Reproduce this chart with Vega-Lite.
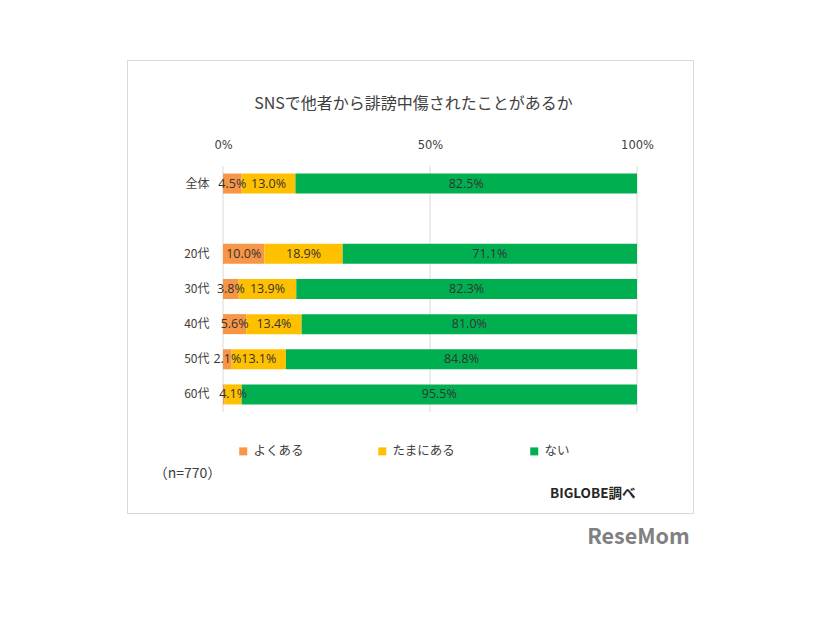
{
  "$schema": "https://vega.github.io/schema/vega-lite/v6.json",
  "width": 566,
  "height": 453,
  "autosize": {"type": "none"},
  "padding": {"left": 127, "top": 60, "right": 133, "bottom": 107},
  "background": "#ffffff",
  "config": {
    "font": "Noto Sans CJK JP",
    "view": {"stroke": "#d9d9d9", "strokeWidth": 1}
  },
  "datasets": {
    "survey": [
      {"cat": "全体", "type": "よくある", "order": 1, "pct": 0.045},
      {"cat": "全体", "type": "たまにある", "order": 2, "pct": 0.130},
      {"cat": "全体", "type": "ない", "order": 3, "pct": 0.825},
      {"cat": "20代", "type": "よくある", "order": 1, "pct": 0.100},
      {"cat": "20代", "type": "たまにある", "order": 2, "pct": 0.189},
      {"cat": "20代", "type": "ない", "order": 3, "pct": 0.711},
      {"cat": "30代", "type": "よくある", "order": 1, "pct": 0.038},
      {"cat": "30代", "type": "たまにある", "order": 2, "pct": 0.139},
      {"cat": "30代", "type": "ない", "order": 3, "pct": 0.823},
      {"cat": "40代", "type": "よくある", "order": 1, "pct": 0.056},
      {"cat": "40代", "type": "たまにある", "order": 2, "pct": 0.134},
      {"cat": "40代", "type": "ない", "order": 3, "pct": 0.810},
      {"cat": "50代", "type": "よくある", "order": 1, "pct": 0.021},
      {"cat": "50代", "type": "たまにある", "order": 2, "pct": 0.131},
      {"cat": "50代", "type": "ない", "order": 3, "pct": 0.848},
      {"cat": "60代", "type": "よくある", "order": 1, "pct": 0.004},
      {"cat": "60代", "type": "たまにある", "order": 2, "pct": 0.041},
      {"cat": "60代", "type": "ない", "order": 3, "pct": 0.955}
    ],
    "grid": [{"g": 0}, {"g": 0.5}, {"g": 1}]
  },
  "resolve": {"axis": {"x": "independent", "y": "independent"}},
  "layer": [
    {
      "data": {"name": "grid"},
      "mark": {"type": "rule", "color": "#d9d9d9", "strokeWidth": 1},
      "encoding": {
        "x": {
          "field": "g", "type": "quantitative",
          "scale": {"domain": [0, 1], "range": [96, 510], "nice": false, "zero": false},
          "axis": {
            "orient": "bottom", "labels": false, "ticks": false, "tickSize": 0, "domain": false, "grid": false,
            "title": "BIGLOBE調べ", "titleX": 508, "titleY": -20, "titleAlign": "right", "titleBaseline": "middle",
            "titleFontSize": 13.5, "titleFontWeight": "bold", "titleColor": "#262626", "titleAngle": 0
          }
        },
        "y": {
          "datum": "全体", "type": "nominal", "bandPosition": -0.375,
          "scale": {"domain": ["全体", " ", "20代", "30代", "40代", "50代", "60代"], "range": [106, 352], "paddingInner": 0.43, "paddingOuter": 0.215},
          "axis": {
            "orient": "right", "labels": false, "ticks": false, "tickSize": 0, "domain": false, "grid": false,
            "title": "ReseMom", "titleX": -55, "titleY": 477, "titleAlign": "center", "titleBaseline": "middle",
            "titleFontSize": 21.5, "titleFontWeight": "bold", "titleColor": "#808080", "titleAngle": 0
          }
        },
        "y2": {"datum": "60代", "bandPosition": 1.375}
      }
    },
    {
      "data": {"name": "survey"},
      "transform": [
        {"stack": "pct", "groupby": ["cat"], "sort": [{"field": "order"}], "as": ["p0", "p1"]}
      ],
      "layer": [
        {
          "mark": {"type": "bar"},
          "encoding": {
            "y": {
              "field": "cat", "type": "nominal",
              "scale": {"domain": ["全体", " ", "20代", "30代", "40代", "50代", "60代"], "range": [106, 352], "paddingInner": 0.43, "paddingOuter": 0.215},
              "axis": {
                "orient": "left", "offset": -82, "labelPadding": 0, "ticks": false, "tickSize": 0, "domain": false, "grid": false,
                "labelFontSize": 12, "labelColor": "#404040",
                "title": "（n=770）", "titleX": -22, "titleY": 413, "titleAlign": "center", "titleBaseline": "middle",
                "titleAngle": 0, "titleFontSize": 14, "titleFontWeight": "normal", "titleColor": "#404040"
              }
            },
            "x": {
              "field": "p0", "type": "quantitative",
              "scale": {"domain": [0, 1], "range": [96, 510], "nice": false, "zero": false},
              "axis": {
                "orient": "top", "offset": -90, "values": [0, 0.5, 1], "format": "%", "labelPadding": 0,
                "labelFlush": false, "ticks": false, "tickSize": 0, "domain": false, "grid": false,
                "labelFontSize": 11.5, "labelColor": "#404040", "labelFont": "DejaVu Sans",
                "title": "SNSで他者から誹謗中傷されたことがあるか", "titleX": 286, "titleY": -47,
                "titleAlign": "center", "titleBaseline": "middle", "titleAngle": 0,
                "titleFontSize": 16, "titleFontWeight": "normal", "titleColor": "#404040"
              }
            },
            "x2": {"field": "p1"},
            "color": {
              "field": "type", "type": "nominal",
              "scale": {"domain": ["よくある", "たまにある", "ない"], "range": ["#F79646", "#FFC000", "#00B050"]},
              "legend": {
                "orient": "none", "legendX": 110, "legendY": 385, "direction": "horizontal", "columns": 3,
                "columnPadding": 72, "title": null, "symbolType": "square", "symbolSize": 64,
                "symbolStrokeWidth": 0, "labelFontSize": 12.5, "labelColor": "#404040", "labelOffset": 4
              }
            }
          }
        },
        {
          "transform": [
            {"filter": "datum.pct >= 0.01"},
            {"calculate": "(datum.p0 + datum.p1) / 2", "as": "mid"}
          ],
          "mark": {"type": "text", "fontSize": 12.5, "font": "Open Sans", "color": "#333333", "align": "center", "baseline": "middle"},
          "encoding": {
            "y": {"field": "cat", "type": "nominal"},
            "x": {"field": "mid", "type": "quantitative"},
            "text": {"field": "pct", "type": "quantitative", "format": ".1%"}
          }
        }
      ]
    }
  ]
}
